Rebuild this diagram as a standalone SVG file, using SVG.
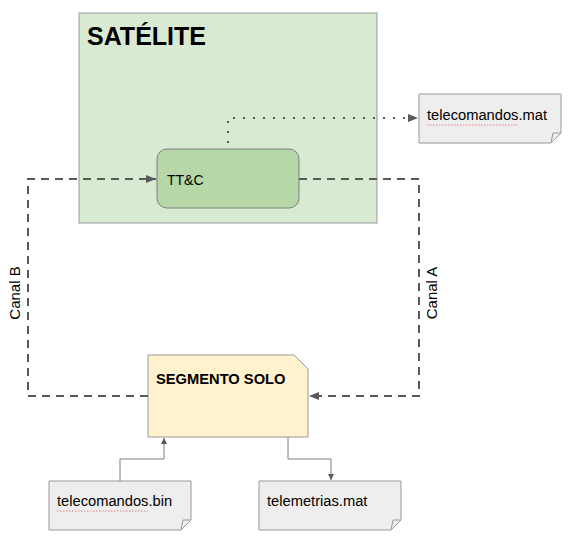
<svg xmlns="http://www.w3.org/2000/svg" width="569" height="537" viewBox="0 0 569 537">
<defs>
<marker id="ah" markerWidth="10" markerHeight="8" refX="10" refY="4" orient="auto" markerUnits="userSpaceOnUse"><path d="M0,0 L10,4 L0,8 Z" fill="#595959"/></marker>
<marker id="ahs" markerWidth="6" markerHeight="6" refX="6" refY="3" orient="auto" markerUnits="userSpaceOnUse"><path d="M0,0 L6,3 L0,6 Z" fill="#595959"/></marker>
<style>
text{font-family:"Liberation Sans",Arial,sans-serif;fill:#000}
.note{fill:#eeeeee;stroke:#999999;stroke-width:1}
.fold{fill:none;stroke:#999999;stroke-width:1}
.dash{fill:none;stroke:#595959;stroke-width:2;stroke-dasharray:8,6}
.dot{fill:none;stroke:#595959;stroke-width:2;stroke-dasharray:2,8}
.thin{fill:none;stroke:#7f7f7f;stroke-width:1}
.sq{fill:none;stroke:#e06666;stroke-width:0.8;stroke-dasharray:1.5,1.5}
</style>
</defs>
<g id="satelite">
<rect x="79" y="13" width="298" height="210" fill="#d9ead3" stroke="#999999"/>
<text x="87" y="45" font-size="25" font-weight="bold">SATÉLITE</text>
</g>
<g id="ttc">
<rect x="157" y="149" width="142" height="59" rx="10" fill="#b6d7a8" stroke="#7f7f7f"/>
<text x="167" y="185" font-size="14">TT&amp;C</text>
</g>
<g id="telecomandos-mat">
<path class="note" d="M419,94 H561 V133 L551,143 H419 Z"/>
<path class="fold" d="M561,133 H553 L551,143"/>
<text x="427" y="120" font-size="14.7">telecomandos.mat</text>
<path class="sq" d="M427,125 H518"/>
</g>
<g id="segmento-solo">
<path d="M148,355 H294 L308,369 V437 H148 Z" fill="#fff2cc" stroke="#999999"/>
<text x="156" y="384" font-size="14.7" font-weight="bold">SEGMENTO SOLO</text>
</g>
<g id="telecomandos-bin">
<path class="note" d="M49,481 H191 V520 L181,530 H49 Z"/>
<path class="fold" d="M191,520 H183 L181,530"/>
<text x="57" y="506" font-size="14.7">telecomandos.bin</text>
<path class="sq" d="M57,511 H148"/>
</g>
<g id="telemetrias-mat">
<path class="note" d="M259,481 H401 V520 L391,530 H259 Z"/>
<path class="fold" d="M401,520 H393 L391,530"/>
<text x="267" y="506" font-size="14.7">telemetrias.mat</text>
</g>
<g id="connectors">
<path class="dot" d="M228,143 V118 H418" marker-end="url(#ah)"/>
<path class="dash" d="M148,396 H28 V179 H156" marker-end="url(#ah)"/>
<path class="dash" d="M299,179 H419 V396 H309" marker-end="url(#ah)"/>
<path class="thin" d="M120,481 V459 H164 V438" marker-end="url(#ahs)"/>
<path class="thin" d="M288,437 V459 H331 V480" marker-end="url(#ahs)"/>
<text transform="translate(20,293) rotate(-90)" font-size="15" text-anchor="middle">Canal B</text>
<text transform="translate(437,293) rotate(-90)" font-size="15" text-anchor="middle">Canal A</text>
</g>
</svg>
